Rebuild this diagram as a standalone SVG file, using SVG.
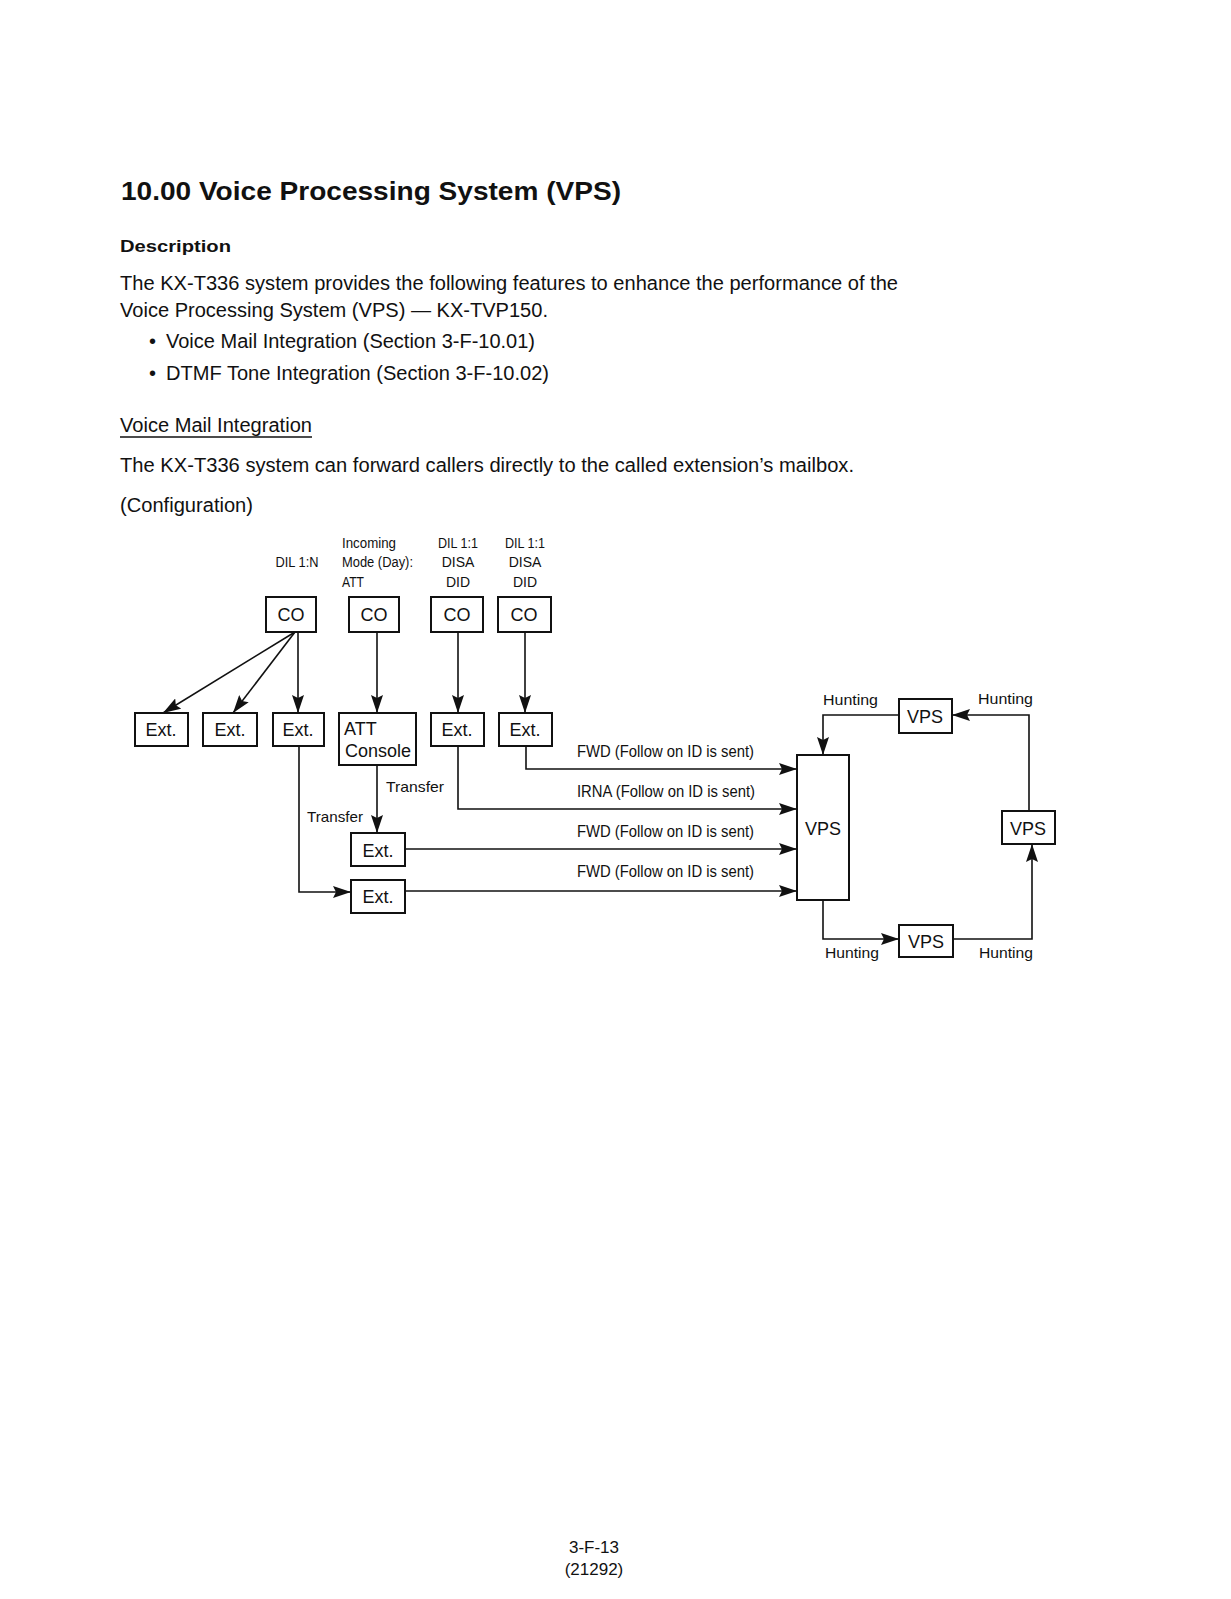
<svg xmlns="http://www.w3.org/2000/svg" width="1231" height="1599" viewBox="0 0 1231 1599">
<style>
text{font-family:"Liberation Sans",Arial,sans-serif;fill:#111}
.body{font-size:20px}
.box{fill:#fff;stroke:#111;stroke-width:2}
.bt{font-size:18px;text-anchor:middle}
.lab{font-size:14px;text-anchor:middle}
.sm{font-size:15px}
.fw{font-size:16px}
.con{fill:none;stroke:#111;stroke-width:1.6}
</style>
<defs>
<marker id="ah" markerWidth="18" markerHeight="12" refX="18" refY="6" orient="auto" markerUnits="userSpaceOnUse"><path d="M0,0 L18,6 L0,12 L3,6 z" fill="#111"/></marker>
</defs>
<rect width="1231" height="1599" fill="#fff"/>
<g id="heading">
<text x="121" y="200" font-size="26" font-weight="bold" textLength="500" lengthAdjust="spacingAndGlyphs">10.00 Voice Processing System (VPS)</text>
<text x="120" y="252" font-size="17" font-weight="bold" textLength="111" lengthAdjust="spacingAndGlyphs">Description</text>
<text class="body" x="120" y="290" textLength="778" lengthAdjust="spacingAndGlyphs">The KX-T336 system provides the following features to enhance the performance of the</text>
<text class="body" x="120" y="317" textLength="428" lengthAdjust="spacingAndGlyphs">Voice Processing System (VPS) — KX-TVP150.</text>
<text class="body" x="149" y="348">•</text>
<text class="body" x="166" y="348" textLength="369" lengthAdjust="spacingAndGlyphs">Voice Mail Integration (Section 3-F-10.01)</text>
<text class="body" x="149" y="380">•</text>
<text class="body" x="166" y="380" textLength="383" lengthAdjust="spacingAndGlyphs">DTMF Tone Integration (Section 3-F-10.02)</text>
<text class="body" x="120" y="432" textLength="192" lengthAdjust="spacingAndGlyphs">Voice Mail Integration</text>
<line x1="120" y1="437" x2="312" y2="437" stroke="#111" stroke-width="1.5"/>
<text class="body" x="120" y="472" textLength="734" lengthAdjust="spacingAndGlyphs">The KX-T336 system can forward callers directly to the called extension’s mailbox.</text>
<text class="body" x="120" y="512" textLength="133" lengthAdjust="spacingAndGlyphs">(Configuration)</text>
</g>
<g id="top-labels">
<text class="lab" x="297" y="567" textLength="43" lengthAdjust="spacingAndGlyphs">DIL 1:N</text>
<text class="lab" x="342" y="548" style="text-anchor:start" textLength="54" lengthAdjust="spacingAndGlyphs">Incoming</text>
<text class="lab" x="342" y="567" style="text-anchor:start" textLength="71" lengthAdjust="spacingAndGlyphs">Mode (Day):</text>
<text class="lab" x="342" y="587" style="text-anchor:start" textLength="22" lengthAdjust="spacingAndGlyphs">ATT</text>
<text class="lab" x="458" y="548" textLength="40" lengthAdjust="spacingAndGlyphs">DIL 1:1</text>
<text class="lab" x="458" y="567">DISA</text>
<text class="lab" x="458" y="587">DID</text>
<text class="lab" x="525" y="548" textLength="40" lengthAdjust="spacingAndGlyphs">DIL 1:1</text>
<text class="lab" x="525" y="567">DISA</text>
<text class="lab" x="525" y="587">DID</text>
</g>
<g id="co1"><rect class="box" x="266" y="597" width="50" height="35"/><text class="bt" x="291" y="621">CO</text></g>
<g id="co2"><rect class="box" x="349" y="597" width="50" height="35"/><text class="bt" x="374" y="621">CO</text></g>
<g id="co3"><rect class="box" x="431" y="597" width="52" height="35"/><text class="bt" x="457" y="621">CO</text></g>
<g id="co4"><rect class="box" x="498" y="597" width="53" height="35"/><text class="bt" x="524" y="621">CO</text></g>
<g id="ext1"><rect class="box" x="135" y="713" width="53" height="33"/><text class="bt" x="161" y="736">Ext.</text></g>
<g id="ext2"><rect class="box" x="203" y="713" width="54" height="33"/><text class="bt" x="230" y="736">Ext.</text></g>
<g id="ext3"><rect class="box" x="273" y="713" width="51" height="33"/><text class="bt" x="298" y="736">Ext.</text></g>
<g id="att-console"><rect class="box" x="339" y="713" width="77" height="52"/><text class="bt" x="344" y="735" style="text-anchor:start">ATT</text><text class="bt" x="378" y="757">Console</text></g>
<g id="ext4"><rect class="box" x="431" y="713" width="53" height="33"/><text class="bt" x="457" y="736">Ext.</text></g>
<g id="ext5"><rect class="box" x="499" y="713" width="53" height="33"/><text class="bt" x="525" y="736">Ext.</text></g>
<g id="extA"><rect class="box" x="351" y="833" width="54" height="33"/><text class="bt" x="378" y="857">Ext.</text></g>
<g id="extB"><rect class="box" x="351" y="880" width="54" height="33"/><text class="bt" x="378" y="903">Ext.</text></g>
<g id="vps-main"><rect class="box" x="797" y="755" width="52" height="145"/><text class="bt" x="823" y="835">VPS</text></g>
<g id="vps-top"><rect class="box" x="899" y="699" width="53" height="34"/><text class="bt" x="925" y="723">VPS</text></g>
<g id="vps-right"><rect class="box" x="1002" y="811" width="53" height="33"/><text class="bt" x="1028" y="835">VPS</text></g>
<g id="vps-bottom"><rect class="box" x="899" y="925" width="54" height="32"/><text class="bt" x="926" y="948">VPS</text></g>
<g id="connectors">
<path class="con" d="M295,632 L163,713" marker-end="url(#ah)"/>
<path class="con" d="M295,632 L233,713" marker-end="url(#ah)"/>
<path class="con" d="M298,632 L298,713" marker-end="url(#ah)"/>
<path class="con" d="M377,632 L377,713" marker-end="url(#ah)"/>
<path class="con" d="M458,632 L458,713" marker-end="url(#ah)"/>
<path class="con" d="M525,632 L525,713" marker-end="url(#ah)"/>
<path class="con" d="M377,765 L377,833" marker-end="url(#ah)"/>
<path class="con" d="M299,746 L299,892 L351,892" marker-end="url(#ah)"/>
<path class="con" d="M526,746 L526,769 L797,769" marker-end="url(#ah)"/>
<path class="con" d="M458,746 L458,809 L797,809" marker-end="url(#ah)"/>
<path class="con" d="M405,849 L797,849" marker-end="url(#ah)"/>
<path class="con" d="M405,891 L797,891" marker-end="url(#ah)"/>
<path class="con" d="M823,900 L823,939 L899,939" marker-end="url(#ah)"/>
<path class="con" d="M953,939 L1032,939 L1032,844" marker-end="url(#ah)"/>
<path class="con" d="M1029,811 L1029,715 L952,715" marker-end="url(#ah)"/>
<path class="con" d="M899,715 L823,715 L823,755" marker-end="url(#ah)"/>
</g>
<g id="connector-labels">
<text class="sm" x="386" y="792" textLength="58" lengthAdjust="spacingAndGlyphs">Transfer</text>
<text class="sm" x="307" y="822" textLength="56" lengthAdjust="spacingAndGlyphs">Transfer</text>
<text class="fw" x="577" y="757" textLength="177" lengthAdjust="spacingAndGlyphs">FWD (Follow on ID is sent)</text>
<text class="fw" x="577" y="797" textLength="178" lengthAdjust="spacingAndGlyphs">IRNA (Follow on ID is sent)</text>
<text class="fw" x="577" y="837" textLength="177" lengthAdjust="spacingAndGlyphs">FWD (Follow on ID is sent)</text>
<text class="fw" x="577" y="877" textLength="177" lengthAdjust="spacingAndGlyphs">FWD (Follow on ID is sent)</text>
<text class="sm" x="823" y="705" textLength="55" lengthAdjust="spacingAndGlyphs">Hunting</text>
<text class="sm" x="978" y="704" textLength="55" lengthAdjust="spacingAndGlyphs">Hunting</text>
<text class="sm" x="825" y="958" textLength="54" lengthAdjust="spacingAndGlyphs">Hunting</text>
<text class="sm" x="979" y="958" textLength="54" lengthAdjust="spacingAndGlyphs">Hunting</text>
</g>
<g id="footer">
<text x="594" y="1553" font-size="17" text-anchor="middle">3-F-13</text>
<text x="594" y="1575" font-size="17" text-anchor="middle">(21292)</text>
</g>
</svg>
